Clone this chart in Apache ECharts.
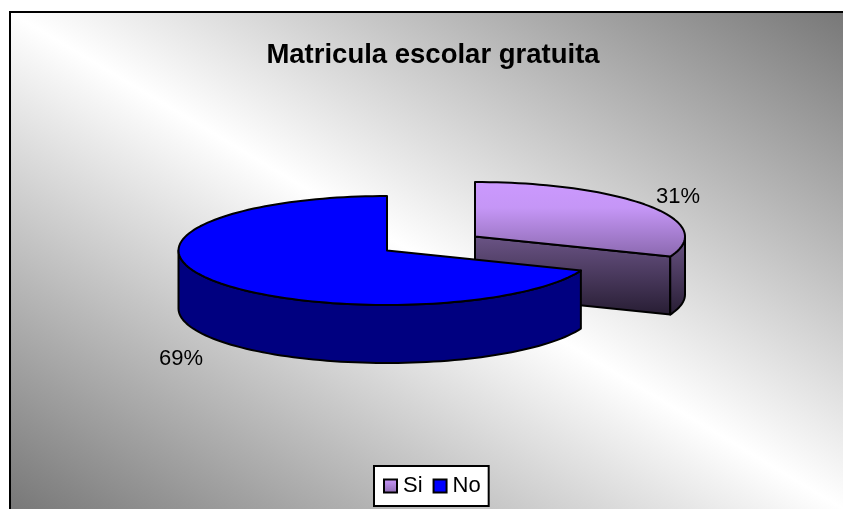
<!DOCTYPE html>
<html>
<head>
<meta charset="utf-8">
<style>html,body{margin:0;padding:0;background:#fff}#c{width:843px;height:509px}</style>
<script src="https://cdn.jsdelivr.net/npm/echarts@6/dist/echarts.min.js"></script>
</head>
<body>
<div id="c"></div>
<script>
var categories = ['Si', 'No'];
var values = [31, 69];
var titleText = 'Matricula escolar gratuita';
var total = values[0] + values[1];

var FONT = '"Liberation Sans", Arial, sans-serif';
var RXS = [210, 208.5], RY = 54.5, DEPTH = 58;
var centers = [[475, 236.5], [387, 250.5]];
var labelPos = [[678, 197], [181, 359]];

function vgrad(a, b) {
  return new echarts.graphic.LinearGradient(0, 0, 0, 1, [{offset: 0, color: a}, {offset: 1, color: b}]);
}
var topFill = [
  new echarts.graphic.LinearGradient(0, 0, 0, 1, [{offset: 0, color: '#cc99ff'}, {offset: 0.35, color: '#c596f6'}, {offset: 1, color: '#8a68ae'}]),
  '#0000ff'
];
var sideFill = [vgrad('#6b5486', '#271d33'), '#000080'];

function pt(idx, deg, dy) {
  var c = centers[idx], r = deg * Math.PI / 180;
  return [c[0] + RXS[idx] * Math.sin(r), c[1] - RY * Math.cos(r) + (dy || 0)];
}
function arc(idx, a0, a1, dy) {
  var out = [], n = Math.max(2, Math.ceil(Math.abs(a1 - a0) / 2));
  for (var i = 0; i <= n; i++) out.push(pt(idx, a0 + (a1 - a0) * i / n, dy));
  return out;
}
function sliceItem(idx) {
  var start = 0;
  for (var i = 0; i < idx; i++) start += values[i] / total * 360;
  var end = start + values[idx] / total * 360;
  var c = centers[idx];
  var children = [];
  var lineStyle = {stroke: '#000', lineWidth: 2, lineJoin: 'round'};
  if (idx === 0) {
    var e = pt(idx, end);
    children.push({type: 'polygon', shape: {points: [c, e, [e[0], e[1] + DEPTH], [c[0], c[1] + DEPTH]]},
      style: Object.assign({fill: sideFill[idx]}, lineStyle)});
  }
  var r0 = Math.max(start, 90), r1 = Math.min(end, 270);
  var rimTop = arc(idx, r0, r1, 0), rimBot = arc(idx, r1, r0, DEPTH);
  children.push({type: 'polygon', shape: {points: rimTop.concat(rimBot)},
    style: Object.assign({fill: sideFill[idx]}, lineStyle)});
  children.push({type: 'polygon', shape: {points: [c].concat(arc(idx, start, end, 0))},
    style: Object.assign({fill: topFill[idx]}, lineStyle)});
  children.push({type: 'text', style: {
    text: Math.round(values[idx] / total * 100) + '%',
    x: labelPos[idx][0], y: labelPos[idx][1],
    font: '22px ' + FONT, fill: '#000', textAlign: 'center', textVerticalAlign: 'middle'
  }});
  return {type: 'group', children: children};
}

var chart = echarts.init(document.getElementById('c'), null, {renderer: 'canvas', width: 843, height: 509});
chart.setOption({
  animation: false,
  backgroundColor: '#ffffff',
  title: {
    text: titleText, left: 428, top: 36, textAlign: 'center',
    textStyle: {fontFamily: FONT, fontSize: 27.5, fontWeight: 'bold', color: '#000'}
  },
  legend: {
    data: categories.map(function (n) { return {name: n, icon: 'rect'}; }),
    left: 374, top: 466, orient: 'horizontal', padding: [9, 8, 9, 9],
    backgroundColor: '#fff', borderColor: '#000', borderWidth: 2, borderRadius: 0,
    itemWidth: 13, itemHeight: 13, itemGap: 10, selectedMode: false,
    textStyle: {fontFamily: FONT, fontSize: 22, color: '#000', padding: [0, 0, 0, 1]}
  },
  graphic: {elements: [{
    type: 'rect', silent: true, z: -10,
    shape: {x: 10, y: 12, width: 840, height: 505},
    style: {
      stroke: '#000', lineWidth: 2,
      fill: new echarts.graphic.LinearGradient(208, 626, 644, -106, [
        {offset: 0, color: '#787878'}, {offset: 0.5, color: '#ffffff'}, {offset: 1, color: '#787878'}
      ], true)
    }
  }]},
  series: categories.map(function (name, idx) {
    return {
      type: 'custom', name: name, coordinateSystem: 'none', silent: true, z: 2 + idx,
      data: [values[idx]],
      itemStyle: {
        color: idx === 0 ? vgrad('#cc99ff', '#8a68ae') : '#0000ff',
        borderColor: '#000', borderWidth: 1.5
      },
      renderItem: function () { return sliceItem(idx); }
    };
  })
});
</script>
</body>
</html>
